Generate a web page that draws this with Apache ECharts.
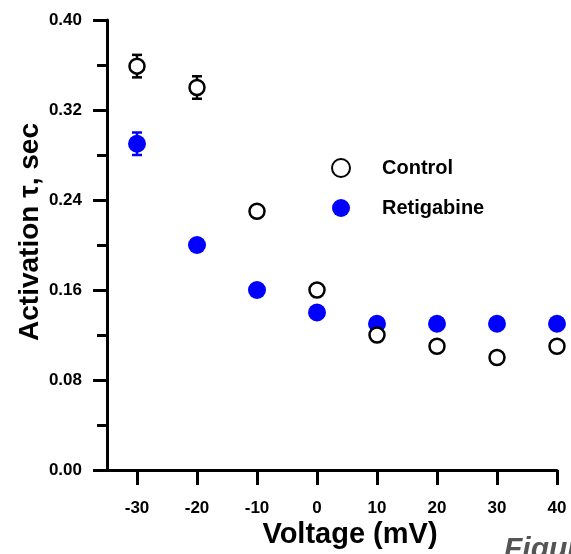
<!DOCTYPE html>
<html>
<head>
<meta charset="utf-8">
<script src="https://cdn.jsdelivr.net/npm/echarts@6/dist/echarts.min.js"></script>
<style>html,body{margin:0;padding:0;background:#fff;}#c{width:571px;height:554px;}</style>
</head>
<body>
<div id="c"></div>
<script>
const voltages = [-30, -20, -10, 0, 10, 20, 30, 40];
const controlTau = [0.359, 0.340, 0.230, 0.160, 0.120, 0.110, 0.100, 0.110];
const controlErr = [0.010, 0.010, 0, 0, 0, 0, 0, 0];
const retigabineTau = [0.290, 0.200, 0.160, 0.140, 0.130, 0.130, 0.130, 0.130];
const retigabineErr = [0.010, 0, 0, 0, 0, 0, 0, 0];
const xTicks = [-30, -20, -10, 0, 10, 20, 30, 40];
const yTicks = [0.00, 0.08, 0.16, 0.24, 0.32, 0.40];

const FONT = '"Liberation Sans", Arial, sans-serif';
const blue = '#0000ff';

function errData(vals, errs) {
  return voltages.map((v, i) => [v, vals[i], errs[i]]);
}
function errRender(color) {
  return function (params, api) {
    const x = api.value(0), y = api.value(1), e = api.value(2);
    if (!e) return null;
    const top = api.coord([x, y + e]);
    const bot = api.coord([x, y - e]);
    const hw = 5;
    const st = { stroke: color, lineWidth: 2.5 };
    return {
      type: 'group',
      children: [
        { type: 'line', shape: { x1: top[0], y1: top[1], x2: bot[0], y2: bot[1] }, style: st },
        { type: 'line', shape: { x1: top[0] - hw, y1: top[1], x2: top[0] + hw, y2: top[1] }, style: st },
        { type: 'line', shape: { x1: bot[0] - hw, y1: bot[1], x2: bot[0] + hw, y2: bot[1] }, style: st }
      ]
    };
  };
}

const chart = echarts.init(document.getElementById('c'), null, { renderer: 'canvas' });
chart.setOption({
  animation: false,
  backgroundColor: '#fff',
  grid: { left: 107, right: 14, top: 20, bottom: 84, containLabel: false },
  xAxis: {
    type: 'value', min: -35, max: 40,
    axisLine: { show: true, onZero: false, lineStyle: { color: '#000', width: 3 } },
    axisTick: { show: true, inside: false, length: 15, customValues: xTicks, lineStyle: { color: '#000', width: 3 } },
    axisLabel: { show: true, customValues: xTicks, margin: 30, color: '#000', fontFamily: FONT, fontWeight: 'bold', fontSize: 17 },
    splitLine: { show: false }
  },
  yAxis: {
    type: 'value', min: 0, max: 0.4, interval: 0.08,
    axisLine: { show: true, onZero: false, lineStyle: { color: '#000', width: 3 } },
    axisTick: { show: true, inside: false, length: 14, lineStyle: { color: '#000', width: 3 } },
    minorTick: { show: true, splitNumber: 2, length: 10, lineStyle: { color: '#000', width: 3 } },
    axisLabel: { show: true, margin: 25, color: '#000', fontFamily: FONT, fontWeight: 'bold', fontSize: 17,
      formatter: v => v.toFixed(2) },
    splitLine: { show: false }
  },
  legend: {
    left: 326, top: 153, orient: 'vertical', itemGap: 20, itemWidth: 18, itemHeight: 18,
    data: ['Control', 'Retigabine'],
    textStyle: { color: '#000', fontFamily: FONT, fontWeight: 'bold', fontSize: 20, lineHeight: 18, padding: [0, 0, 0, 27] }
  },
  series: [
    {
      name: 'ControlErr', type: 'custom', renderItem: errRender('#000'), z: 1,
      data: errData(controlTau, controlErr), silent: true
    },
    {
      name: 'RetigabineErr', type: 'custom', renderItem: errRender(blue), z: 1,
      data: errData(retigabineTau, retigabineErr), silent: true
    },
    {
      name: 'Control', type: 'scatter', symbol: 'circle', symbolSize: 15, z: 3,
      itemStyle: { color: '#fff', borderColor: '#000', borderWidth: 2.5, opacity: 1 },
      data: voltages.map((v, i) => [v, controlTau[i]])
    },
    {
      name: 'Retigabine', type: 'scatter', symbol: 'circle', symbolSize: 18, z: 2,
      itemStyle: { color: blue, opacity: 1 },
      data: voltages.map((v, i) => [v, retigabineTau[i]])
    }
  ],
  graphic: [
    { type: 'text', x: 30, y: 232, rotation: Math.PI / 2,
      style: { text: 'Activation τ, sec', fill: '#000', font: 'bold 28px ' + FONT, align: 'center', verticalAlign: 'middle' } },
    { type: 'text', x: 350, y: 535,
      style: { text: 'Voltage (mV)', fill: '#000', font: 'bold 29px ' + FONT, align: 'center', verticalAlign: 'middle' } },
    { type: 'text', x: 504, y: 535,
      style: { text: 'Figure', fill: '#555', font: 'italic bold 30px ' + FONT, align: 'left', verticalAlign: 'top' } }
  ]
});
</script>
</body>
</html>
